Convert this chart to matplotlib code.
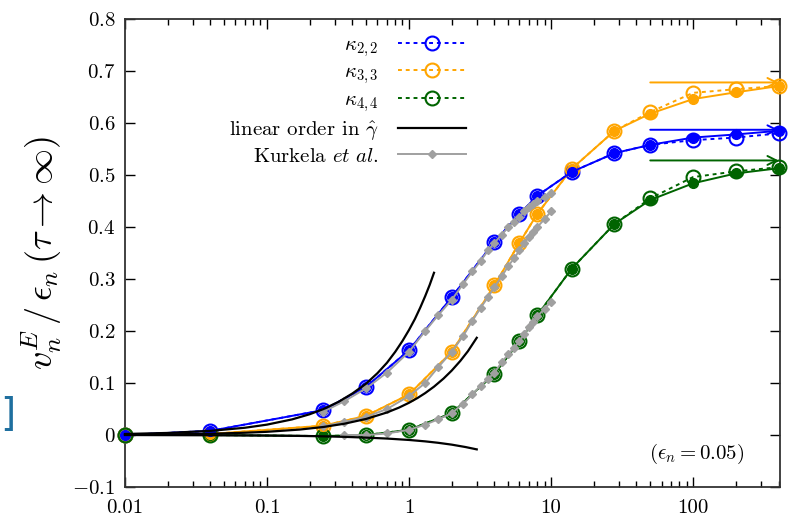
import numpy as np
import matplotlib
matplotlib.use('Agg')
import matplotlib.pyplot as plt

plt.rcParams['font.family'] = ['cmr10']
plt.rcParams['mathtext.fontset'] = 'cm'
plt.rcParams['axes.formatter.use_mathtext'] = True
plt.rcParams['axes.unicode_minus'] = True

# times at which the flow coefficients were evaluated
tau = [0.01, 0.04, 0.25, 0.5, 1, 2, 4, 6, 8, 14, 28, 50, 100, 200, 400]

# open circles, dotted
k22 = [0.0, 0.008, 0.048, 0.093, 0.163, 0.265, 0.372, 0.425, 0.46, 0.506, 0.542, 0.558, 0.567, 0.572, 0.58]
k33 = [0.0, 0.002, 0.018, 0.037, 0.078, 0.16, 0.288, 0.37, 0.425, 0.512, 0.585, 0.621, 0.658, 0.665, 0.671]
k44 = [0.0, 0.0, -0.002, 0.0, 0.01, 0.042, 0.118, 0.18, 0.23, 0.32, 0.406, 0.455, 0.496, 0.507, 0.515]

# filled dots, solid
k22_b = [0.0, 0.008, 0.048, 0.093, 0.163, 0.265, 0.372, 0.425, 0.46, 0.506, 0.542, 0.558, 0.572, 0.578, 0.585]
k33_b = [0.0, 0.002, 0.018, 0.037, 0.078, 0.16, 0.288, 0.37, 0.425, 0.512, 0.585, 0.618, 0.646, 0.659, 0.671]
k44_b = [0.0, 0.0, -0.002, 0.0, 0.01, 0.042, 0.118, 0.18, 0.23, 0.32, 0.406, 0.452, 0.484, 0.503, 0.513]

# asymptotic values (arrows)
asym = {'b': 0.587, 'o': 0.678, 'g': 0.528}
asym_from = 50
asym_to = 400

# linear order in gamma-hat
lin_x1 = [0.01, 0.02, 0.04, 0.07, 0.1, 0.15, 0.2, 0.25, 0.32, 0.4, 0.5, 0.6, 0.7, 0.8, 0.9,
          1.0, 1.1, 1.2, 1.3, 1.4, 1.5]
lin_y1 = [0.002, 0.004, 0.008, 0.014, 0.02, 0.03, 0.04, 0.05, 0.064, 0.08, 0.099, 0.119, 0.139,
          0.16, 0.181, 0.202, 0.223, 0.245, 0.267, 0.289, 0.312]
lin_x2 = [0.01, 0.02, 0.04, 0.07, 0.1, 0.17, 0.25, 0.35, 0.5, 0.7, 0.85, 1.0, 1.15, 1.3, 1.5,
          1.75, 2.0, 2.3, 2.6, 3.0]
lin_y2 = [0.0006, 0.0012, 0.0025, 0.0044, 0.0062, 0.0105, 0.0155, 0.0217, 0.031, 0.0434, 0.0527,
          0.062, 0.0713, 0.0806, 0.093, 0.1085, 0.124, 0.1426, 0.1612, 0.187]
lin_x3 = [0.01, 0.04, 0.1, 0.17, 0.25, 0.35, 0.5, 0.7, 1.0, 1.3, 1.6, 2.0, 2.5, 3.0]
lin_y3 = [0.0, -0.0005, -0.001, -0.0017, -0.0025, -0.0035, -0.005, -0.0068, -0.0095, -0.0122,
          -0.0149, -0.0185, -0.0231, -0.0276]

# Kurkela et al.
kur_x = [0.25, 0.35, 0.5, 0.7, 1.0, 1.3, 1.6, 2.0, 2.4, 2.8, 3.2, 3.6, 4.0, 4.5, 5.0, 5.5, 6.0, 6.5, 7.0, 7.5, 8.0, 9.0, 10.0]
kur_22 = [0.045, 0.065, 0.09, 0.12, 0.16, 0.2, 0.23, 0.26, 0.29, 0.315, 0.335, 0.355, 0.37, 0.385, 0.4, 0.41, 0.42, 0.43, 0.438, 0.445, 0.45, 0.458, 0.465]
kur_33 = [0.017, 0.025, 0.035, 0.05, 0.075, 0.1, 0.13, 0.16, 0.19, 0.22, 0.245, 0.265, 0.285, 0.305, 0.325, 0.34, 0.355, 0.37, 0.38, 0.39, 0.4, 0.415, 0.43]
kur_44x = kur_x[1:]
kur_44 = [0.0, 0.0, 0.003, 0.01, 0.02, 0.03, 0.042, 0.06, 0.078, 0.095, 0.108, 0.12, 0.14, 0.155, 0.168, 0.18, 0.195, 0.208, 0.218, 0.228, 0.243, 0.256]

xticks = [0.01, 0.1, 1, 10, 100]
xtick_labels = ['0.01', '0.1', '1', '10', '100']
yticks = [-0.1, 0, 0.1, 0.2, 0.3, 0.4, 0.5, 0.6, 0.7, 0.8]
ytick_labels = ['$-0.1$', '$0$', '$0.1$', '$0.2$', '$0.3$', '$0.4$', '$0.5$', '$0.6$', '$0.7$', '$0.8$']

cols = {'b': '#0000ff', 'o': '#ffa500', 'g': '#006400'}
gray = '#a0a0a0'
dot = (0, (2, 2))

fig = plt.figure(figsize=(7.94, 5.22), dpi=100)
ax = fig.add_axes([0.1574, 0.067, 0.825, 0.8966])
ax.set_xscale('log')

series = [('b', k22, k22_b, r'$\kappa_{2,2}$'),
          ('o', k33, k33_b, r'$\kappa_{3,3}$'),
          ('g', k44, k44_b, r'$\kappa_{4,4}$')]

for c, yo, yb, lab in series:
    ax.plot(tau, yo, linestyle=dot, color=cols[c], lw=1.4, marker='o', ms=10,
            mfc='none', mec=cols[c], mew=1.5, label=lab, clip_on=False, zorder=3)
for c, yo, yb, lab in series[::-1]:
    ax.plot(tau, yb, '-', color=cols[c], lw=1.4, marker='o', ms=7,
            mec=cols[c], clip_on=False, zorder=4)

for c, yo, yb, lab in series:
    ax.annotate('', xy=(asym_to, asym[c]), xytext=(asym_from, asym[c]),
                arrowprops=dict(arrowstyle='->', color=cols[c], lw=1.4,
                                mutation_scale=16, shrinkA=0, shrinkB=0))

ax.plot(kur_x, kur_22, '-', color=gray, lw=1.4, marker='D', ms=4, zorder=5,
        label=r'Kurkela $et\ al.$')
ax.plot(kur_x, kur_33, '-', color=gray, lw=1.4, marker='D', ms=4, zorder=5)
ax.plot(kur_44x, kur_44, '-', color=gray, lw=1.4, marker='D', ms=4, zorder=5)

ax.plot(lin_x1, lin_y1, 'k-', lw=1.6, zorder=6, label=r'linear order in $\hat{\gamma}$', clip_on=False)
ax.plot(lin_x2, lin_y2, 'k-', lw=1.6, zorder=6, clip_on=False)
ax.plot(lin_x3, lin_y3, 'k-', lw=1.6, zorder=6, clip_on=False)

ax.set_xlim(0.01, 410)
ax.set_ylim(-0.1, 0.8)
ax.set_xticks(xticks)
ax.set_xticklabels(xtick_labels)
ax.set_yticks(yticks)
ax.set_yticklabels(ytick_labels)
ax.tick_params(which='both', direction='in', top=True, right=True, labelsize=15)
ax.tick_params(axis='x', pad=9)
ax.tick_params(axis='y', pad=7)
ax.tick_params(which='major', length=7, width=1)
ax.tick_params(which='minor', length=4, width=1)
for s in ax.spines.values():
    s.set_linewidth(1.3)
    s.set_color('#333333')

ax.set_ylabel(r'$v_n^E\,/\,\epsilon_n\,(\tau\to\infty)$', fontsize=26, labelpad=6)

h, l = ax.get_legend_handles_labels()
order = [0, 1, 2, 4, 3]
ax.legend([h[i] for i in order], [l[i] for i in order], loc='upper left',
          bbox_to_anchor=(0.13, 1.005), frameon=False, markerfirst=False,
          fontsize=15, handlelength=3.3, labelspacing=0.22, handletextpad=0.9)

ax.text(0.945, 0.045, r'$(\epsilon_n = 0.05)$', transform=ax.transAxes,
        ha='right', va='bottom', fontsize=15)
fig.text(0.0, 0.205, ']', color='#1f6f9f', fontsize=28, va='center',
         family='DejaVu Sans')

fig.savefig('out.png', dpi=100)
